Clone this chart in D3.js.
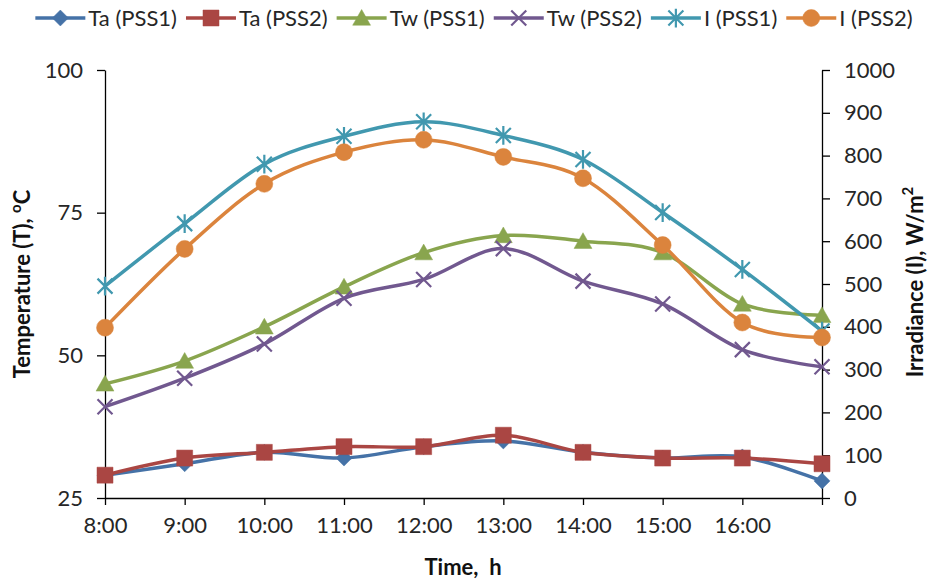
<!DOCTYPE html>
<html>
<head>
<meta charset="utf-8">
<script src="https://cdn.jsdelivr.net/npm/d3@7"></script>
<style>
  html, body { margin: 0; padding: 0; background: #fff; }
  svg { display: block; font-family: Lato, "Open Sans", sans-serif; }
</style>
</head>
<body>
<svg id="chart" width="930" height="580"></svg>
<script>
// ---- data ----
const timeLabels = ["8:00", "9:00", "10:00", "11:00", "12:00", "13:00", "14:00", "15:00", "16:00", ""];
const taPSS1 = [29, 31, 33, 32, 34, 35, 33, 32, 32.2, 28];
const taPSS2 = [29, 32, 33, 34, 34, 36, 33, 32, 32, 31];
const twPSS1 = [45, 49, 55, 62, 68, 71, 70, 68, 59, 57];
const twPSS2 = [41, 46, 52, 60, 63.3, 68.7, 63, 59, 51, 48];
const iPSS1 = [495, 641, 780, 845, 879, 847, 791, 667, 534, 390];
const iPSS2 = [398, 582, 734, 808, 837, 797, 747, 591, 410, 375];
const leftTicks = [25, 50, 75, 100];
const rightTicks = [0, 100, 200, 300, 400, 500, 600, 700, 800, 900, 1000];

const seriesNames = ["Ta (PSS1)", "Ta (PSS2)", "Tw (PSS1)", "Tw (PSS2)", "I (PSS1)", "I (PSS2)"];
const seriesValues = [taPSS1, taPSS2, twPSS1, twPSS2, iPSS1, iPSS2];
const seriesAxis = ["left", "left", "left", "left", "right", "right"];
const seriesColors = ["#4572A7", "#AA4643", "#89A54E", "#71588F", "#4198AF", "#DB843D"];
const seriesMarkers = ["diamond", "square", "triangle", "times", "asterisk", "circle"];

// ---- layout ----
const svg = d3.select("#chart");
const L = 105, R = 822, T = 70, B = 498;

const x = d3.scaleLinear().domain([0, timeLabels.length - 1]).range([L, R]);
const yL = d3.scaleLinear().domain([25, 100]).range([B, T]);
const yR = d3.scaleLinear().domain([0, 1000]).range([B, T]);

// axes
const axL = svg.append("g").attr("transform", `translate(${L},0)`)
  .call(d3.axisLeft(yL).tickValues(leftTicks).tickFormat(d3.format("d")).tickSize(8).tickSizeOuter(0).tickPadding(14));
const axR = svg.append("g").attr("transform", `translate(${R},0)`)
  .call(d3.axisRight(yR).tickValues(rightTicks).tickFormat(d3.format("d")).tickSize(8).tickSizeOuter(0).tickPadding(14));
const axX = svg.append("g").attr("transform", `translate(0,${B})`)
  .call(d3.axisBottom(x).tickValues(d3.range(timeLabels.length)).tickFormat(i => timeLabels[i])
    .tickSize(7).tickSizeOuter(0).tickPadding(12));

[axL, axR, axX].forEach(g => {
  g.selectAll("path.domain").attr("stroke", "#000").attr("stroke-width", 1.3);
  g.selectAll(".tick line").attr("stroke", "#000").attr("stroke-width", 1.3);
  g.selectAll("text").attr("font-size", 22).attr("fill", "#262626").attr("font-family", "Lato, sans-serif");
});

// axis titles
svg.append("text")
  .attr("transform", `translate(30,284) rotate(-90)`)
  .attr("text-anchor", "middle").attr("font-size", 22).attr("font-weight", "bold").attr("fill", "#111")
  .call(t => {
    t.append("tspan").text("Temperature (T), ");
    t.append("tspan").attr("font-size", 15).attr("dy", -9).text("o");
    t.append("tspan").attr("dy", 9).text("C");
  });
svg.append("text")
  .attr("transform", `translate(923,282) rotate(-90)`)
  .attr("text-anchor", "middle").attr("font-size", 22).attr("font-weight", "bold").attr("fill", "#111")
  .call(t => {
    t.append("tspan").text("Irradiance (I), W/m");
    t.append("tspan").attr("font-size", 15).attr("dy", -10).text("2");
  });
svg.append("text")
  .attr("x", 463).attr("y", 575)
  .attr("text-anchor", "middle").attr("font-size", 22).attr("font-weight", "bold").attr("fill", "#111")
  .style("white-space", "pre")
  .text("Time,  h");

// markers
function markerPath(type) {
  switch (type) {
    case "diamond": { const r = 8; return `M0,${-r}L${r},0L0,${r}L${-r},0Z`; }
    case "square": { const s = 8; return `M${-s},${-s}H${s}V${s}H${-s}Z`; }
    case "triangle": { const h = 8.5; return `M0,${-h}L${h * 1.05},${h * 0.85}L${-h * 1.05},${h * 0.85}Z`; }
    case "times": { const r = 7.5; return `M${-r},${-r}L${r},${r}M${-r},${r}L${r},${-r}`; }
    case "asterisk": { const r = 7.5; return `M${-r},${-r}L${r},${r}M${-r},${r}L${r},${-r}M0,${-r * 1.25}L0,${r * 1.25}`; }
    case "circle": return d3.symbol(d3.symbolCircle, Math.PI * 8.5 * 8.5)();
  }
}
const strokeOnly = new Set(["times", "asterisk"]);

const line = d3.line().curve(d3.curveCatmullRom.alpha(0));

seriesValues.forEach((vals, si) => {
  const y = seriesAxis[si] === "left" ? yL : yR;
  const pts = vals.map((v, i) => [x(i), y(v)]);
  const g = svg.append("g");
  g.append("path").attr("d", line(pts)).attr("fill", "none")
    .attr("stroke", seriesColors[si]).attr("stroke-width", 3.5).attr("stroke-linejoin", "round");
  const m = seriesMarkers[si];
  g.selectAll("path.mk").data(pts).join("path").attr("class", "mk")
    .attr("transform", d => `translate(${d[0]},${d[1]})`)
    .attr("d", markerPath(m))
    .attr("fill", strokeOnly.has(m) ? "none" : seriesColors[si])
    .attr("stroke", seriesColors[si])
    .attr("stroke-width", strokeOnly.has(m) ? 2.2 : 0.5);
});

// legend
const lg = svg.append("g");
const items = seriesNames.map((name, si) => {
  const g = lg.append("g");
  g.append("line").attr("x1", 0).attr("x2", 50).attr("y1", 0).attr("y2", 0)
    .attr("stroke", seriesColors[si]).attr("stroke-width", 3.5);
  const m = seriesMarkers[si];
  g.append("path").attr("transform", "translate(25,0)").attr("d", markerPath(m))
    .attr("fill", strokeOnly.has(m) ? "none" : seriesColors[si])
    .attr("stroke", seriesColors[si]).attr("stroke-width", strokeOnly.has(m) ? 2.2 : 0.5);
  const t = g.append("text").attr("x", 53).attr("y", 8).attr("font-size", 22).attr("fill", "#262626").text(name);
  return { g, w: 53 + t.node().getComputedTextLength() };
});
const gap = 9;
const total = d3.sum(items, d => d.w) + gap * (items.length - 1);
let cx = 474 - total / 2;
items.forEach(it => { it.g.attr("transform", `translate(${cx},18)`); cx += it.w + gap; });
</script>
</body>
</html>
